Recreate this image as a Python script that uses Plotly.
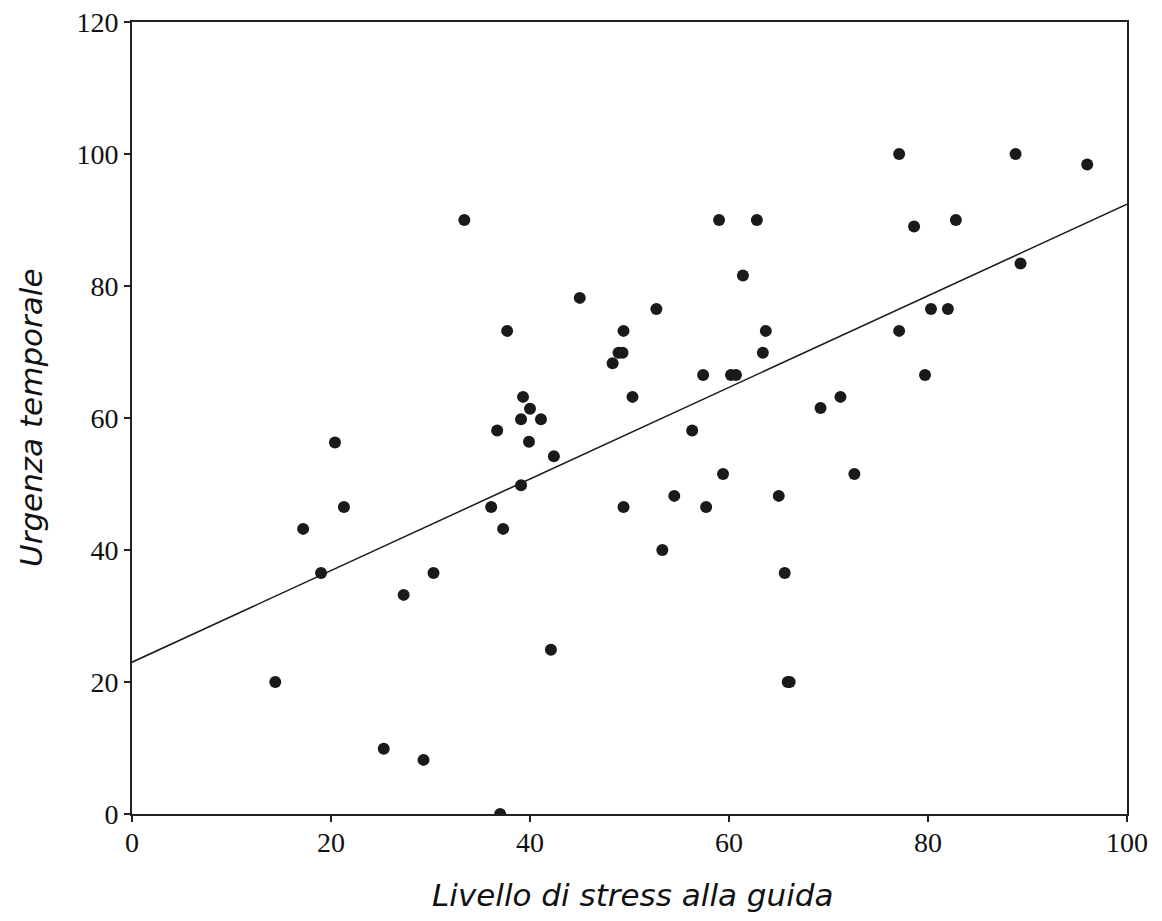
import plotly.graph_objects as go

stress = [14.4, 17.2, 19.0, 20.4, 21.3, 25.3, 27.3, 29.3, 30.3, 33.4,
          36.1, 36.7, 37.0, 37.3, 37.7, 39.1, 39.1, 39.3, 40.0, 39.9,
          41.1, 42.4, 42.1, 45.0, 48.3, 48.9, 49.3, 49.4, 49.4, 50.3,
          52.7, 53.3, 54.5, 56.3, 57.4, 57.7, 59.0, 59.4, 60.2, 60.7,
          61.4, 62.8, 63.4, 63.7, 65.0, 65.6, 65.9, 66.1, 69.2, 71.2,
          72.6, 77.1, 77.1, 78.6, 79.7, 80.3, 82.0, 82.8, 88.8, 89.3, 96.0]
urgenza = [20.0, 43.2, 36.5, 56.3, 46.5, 9.9, 33.2, 8.2, 36.5, 90.0,
           46.5, 58.1, 0.0, 43.2, 73.2, 49.8, 59.8, 63.2, 61.4, 56.4,
           59.8, 54.2, 24.9, 78.2, 68.3, 69.9, 69.9, 73.2, 46.5, 63.2,
           76.5, 40.0, 48.2, 58.1, 66.5, 46.5, 90.0, 51.5, 66.5, 66.5,
           81.6, 90.0, 69.9, 73.2, 48.2, 36.5, 20.0, 20.0, 61.5, 63.2,
           51.5, 100.0, 73.2, 89.0, 66.5, 76.5, 76.5, 90.0, 100.0, 83.4, 98.4]

fit_x = [0, 100]
fit_y = [23.0, 92.4]

x_ticks = [0, 20, 40, 60, 80, 100]
y_ticks = [0, 20, 40, 60, 80, 100, 120]

x_title = "Livello di stress alla guida"
y_title = "Urgenza temporale"

fig = go.Figure()
fig.add_trace(go.Scatter(x=fit_x, y=fit_y, mode="lines",
                         line=dict(color="#1a1a1a", width=1.5),
                         showlegend=False, hoverinfo="skip"))
fig.add_trace(go.Scatter(x=stress, y=urgenza, mode="markers",
                         marker=dict(color="#1a1a1a", size=12, line=dict(width=0)),
                         showlegend=False))

tickfont = dict(family="Liberation Serif, Times New Roman, serif", size=28, color="#111")
titlefont = dict(family="DejaVu Sans, Verdana, sans-serif", size=31, color="#111", style="italic")

fig.update_layout(
    width=1146, height=905,
    margin=dict(l=124, r=27, t=14, b=99),
    plot_bgcolor="white", paper_bgcolor="white",
    xaxis=dict(range=[0, 100], tickvals=x_ticks, ticks="outside", ticklen=6,
               tickwidth=1.5, tickcolor="#222", showline=True, linecolor="#222",
               linewidth=2, mirror=True, showgrid=False, zeroline=False,
               tickfont=tickfont, ticklabeloverflow="allow", automargin=False,
               ticklabelstandoff=-4),
    yaxis=dict(range=[0, 120], tickvals=y_ticks, ticks="outside", ticklen=6,
               tickwidth=1.5, tickcolor="#222", showline=True, linecolor="#222",
               linewidth=2, mirror=True, showgrid=False, zeroline=False,
               tickfont=tickfont, ticklabeloverflow="allow", automargin=False),
    annotations=[
        dict(text=x_title, xref="paper", yref="paper", x=0.503, y=0,
             xanchor="center", yanchor="middle", yshift=-81,
             showarrow=False, font=titlefont),
        dict(text=y_title, xref="paper", yref="paper", x=0, y=0.5,
             xanchor="center", yanchor="middle", xshift=-101, textangle=-90,
             showarrow=False, font=titlefont),
    ],
)

fig.write_html("out.html")
